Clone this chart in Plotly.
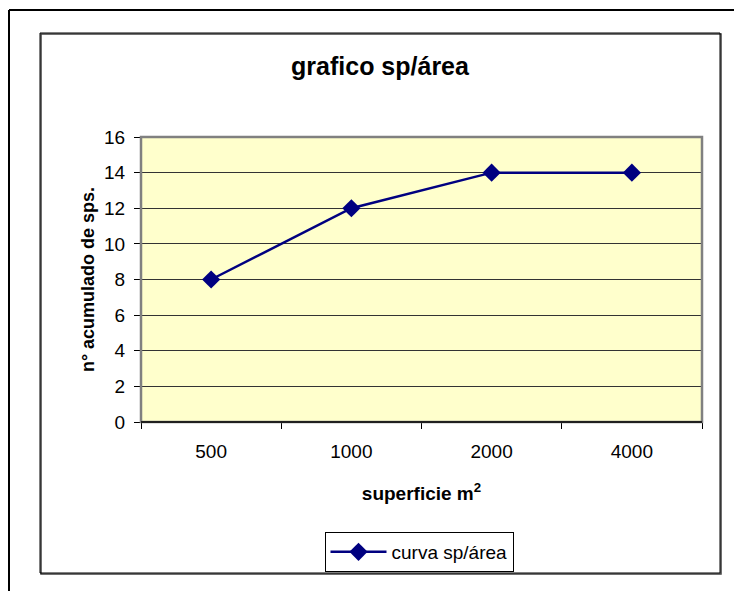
import plotly.graph_objects as go

categories = ["500", "1000", "2000", "4000"]
species = [8, 12, 14, 14]
series_name = "curva sp/área"
y_ticks = [0, 2, 4, 6, 8, 10, 12, 14, 16]

# page has an 8px body margin: figure coordinates = page coordinates - 8
OFF = 8
W, H = 742 - OFF, 591 - OFF
L, R, T, B = 141 - OFF, 702 - OFF, 137 - OFF, 422 - OFF
pw, ph = R - L, B - T

def px(x):
    return (x - OFF - L) / pw

def py(y):
    return (B - (y - OFF)) / ph

fig = go.Figure()
fig.add_trace(go.Scatter(
    x=categories, y=species, mode="lines+markers", name=series_name,
    line=dict(color="#000080", width=2.5),
    marker=dict(symbol="diamond", size=14, color="#000080"),
))

shapes = [
    # outer frame
    dict(type="line", xref="paper", yref="paper", x0=px(9), x1=px(760), y0=py(10), y1=py(10),
         line=dict(color="black", width=2), layer="above"),
    dict(type="line", xref="paper", yref="paper", x0=px(9), x1=px(9), y0=py(10), y1=py(600),
         line=dict(color="black", width=2), layer="above"),
    # inner chart box with shadow
    dict(type="rect", xref="paper", yref="paper", x0=px(41), x1=px(721), y0=py(34), y1=py(574),
         line=dict(color="#404040", width=1.5), layer="above"),
    dict(type="rect", xref="paper", yref="paper", x0=px(40), x1=px(720), y0=py(33), y1=py(573),
         line=dict(color="black", width=1), layer="above"),
    # plot area border (gray)
    dict(type="rect", xref="paper", yref="paper", x0=0, x1=1, y0=0, y1=1,
         line=dict(color="#808080", width=2.5), layer="above"),
    # bottom axis line
    dict(type="line", xref="paper", yref="paper", x0=0, x1=1, y0=0, y1=0,
         line=dict(color="black", width=1.5), layer="above"),
]

fig.update_layout(
    width=W, height=H,
    margin=dict(l=L, r=W - R, t=T, b=H - B),
    paper_bgcolor="white",
    plot_bgcolor="#FFFFCC",
    font=dict(family="Liberation Sans, Arial", size=19, color="black"),
    title=dict(text="<b>grafico sp/área</b>", x=(380 - OFF) / W, xref="container",
               y=1 - (66 - OFF) / H, yref="container", xanchor="center", yanchor="middle",
               font=dict(size=25, color="black")),
    showlegend=True,
    legend=dict(orientation="h", x=px(419), y=py(532), xanchor="center", yanchor="top",
                bordercolor="black", borderwidth=1, bgcolor="white",
                font=dict(size=19), itemwidth=56),
    shapes=shapes,
)

fig.update_xaxes(
    type="category", range=[-0.5, 3.5],
    tickmode="array", tickvals=categories, ticktext=categories,
    ticks="outside", tickson="boundaries", ticklen=6, tickcolor="black",
    showgrid=False, showline=False, zeroline=False,
    ticklabelstandoff=16,
    title=dict(text="<b>superficie m<sup>2</sup></b>", font=dict(size=19), standoff=25),
)
fig.update_yaxes(
    range=[0, 16], tickmode="array", tickvals=y_ticks,
    ticks="outside", ticklen=6, tickcolor="black",
    showgrid=True, gridcolor="#333333", gridwidth=1,
    zeroline=False, showline=False,
    ticklabelstandoff=5,
    title=dict(text="<b>n° acumulado de sps.</b>", font=dict(size=18), standoff=4),
)

fig.write_html("out.html")
